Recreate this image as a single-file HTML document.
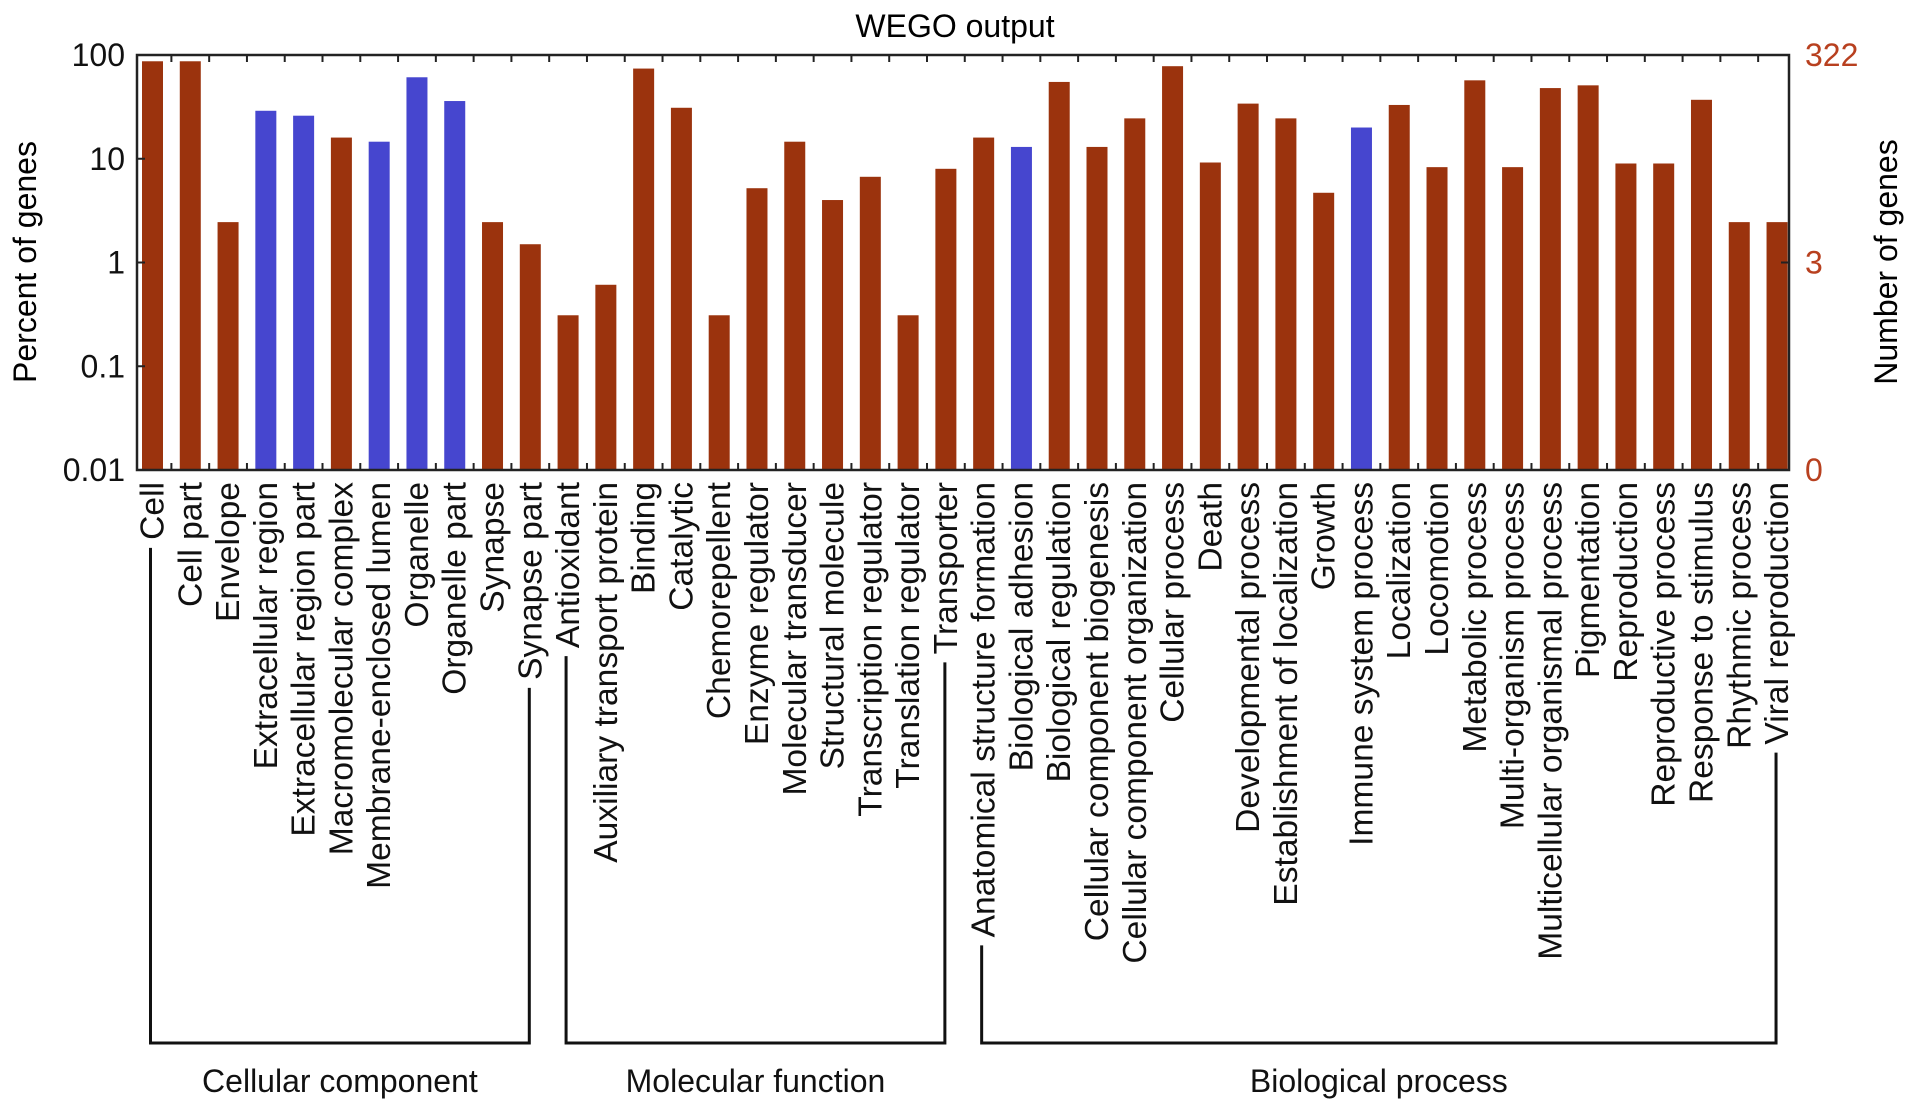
<!DOCTYPE html>
<html><head><meta charset="utf-8"><style>
html,body{margin:0;padding:0;background:#fff;}
svg{display:block;font-family:"Liberation Sans",Arial,sans-serif;}
</style></head><body>
<svg id="chart" width="1913" height="1111" viewBox="0 0 1913 1111" xmlns="http://www.w3.org/2000/svg">
<text x="955" y="37" font-size="32" text-anchor="middle">WEGO output</text>
<text transform="translate(36,262) rotate(-90)" font-size="32" text-anchor="middle">Percent of genes</text>
<text transform="translate(1897,262) rotate(-90)" font-size="32" text-anchor="middle">Number of genes</text>
<g id="plot"></g>
</svg>
<script>
const categories = ["Cell","Cell part","Envelope","Extracellular region","Extracellular region part","Macromolecular complex","Membrane-enclosed lumen","Organelle","Organelle part","Synapse","Synapse part","Antioxidant","Auxiliary transport protein","Binding","Catalytic","Chemorepellent","Enzyme regulator","Molecular transducer","Structural molecule","Transcription regulator","Translation regulator","Transporter","Anatomical structure formation","Biological adhesion","Biological regulation","Cellular component biogenesis","Cellular component organization","Cellular process","Death","Developmental process","Establishment of localization","Growth","Immune system process","Localization","Locomotion","Metabolic process","Multi-organism process","Multicellular organismal process","Pigmentation","Reproduction","Reproductive process","Response to stimulus","Rhythmic process","Viral reproduction"];
const percentValues = [87,87,2.45,29,26,16,14.6,61,36,2.45,1.5,0.31,0.61,74,31,0.31,5.2,14.6,4,6.7,0.31,8,16,13,55,13,24.5,78,9.2,34,24.5,4.7,20,33,8.3,57,8.3,48,51,9,9,37,2.45,2.45];
const highlighted = [0,0,0,1,1,0,1,1,1,0,0,0,0,0,0,0,0,0,0,0,0,0,0,1,0,0,0,0,0,0,0,0,1,0,0,0,0,0,0,0,0,0,0,0];
const leftTickValues = [100,10,1,0.1,0.01];
const leftTickLabels = ["100","10","1","0.1","0.01"];
const rightTickValues = [100,1,0.01];
const rightTickLabels = ["322","3","0"];
const groupNames = ["Cellular component","Molecular function","Biological process"];
const groupStart = [0,11,22];
const groupEnd = [10,21,43];

const NS="http://www.w3.org/2000/svg";
const L=137,R=1789,T=55,B=470;
const firstC=152.5, pitch=37.78, barW=21;
function xPos(i){return firstC+i*pitch;}
function yPos(v){return B-(B-T)*(Math.log10(v)+2)/4;}
const g=document.getElementById('plot');
function mk(tag,attrs){const e=document.createElementNS(NS,tag);for(const k in attrs)e.setAttribute(k,attrs[k]);g.appendChild(e);return e;}

percentValues.forEach((v,i)=>{
  const y=yPos(v);
  const r=mk('rect',{x:xPos(i)-barW/2,y:y,width:barW,height:B-y,fill:highlighted[i]?'#4646cf':'#9b330d'});
  
  
});
const fr=mk('rect',{x:L,y:T,width:R-L,height:B-T,fill:'none',stroke:'#222','stroke-width':2.5});


for(let i=1;i<categories.length;i++){
  const x=xPos(i)-pitch/2;
  mk('line',{x1:x,x2:x,y1:T,y2:T+7,stroke:'#222','stroke-width':2});
  mk('line',{x1:x,x2:x,y1:B,y2:B-7,stroke:'#222','stroke-width':2});
}
leftTickValues.forEach((v,i)=>{
  const y=yPos(v);
  mk('line',{x1:L,x2:L+8,y1:y,y2:y,stroke:'#222','stroke-width':2});
  const t=mk('text',{x:125,y:y+11,'font-size':32,'text-anchor':'end',fill:'#111'});
  t.textContent=leftTickLabels[i];
  
  
});
rightTickValues.forEach((v,i)=>{
  const y=yPos(v);
  mk('line',{x1:R,x2:R-8,y1:y,y2:y,stroke:'#222','stroke-width':2});
  const t=mk('text',{x:1805,y:y+11,'font-size':32,fill:'#b8401f'});
  t.textContent=rightTickLabels[i];
  
  
});
const labelEnds=[];
categories.forEach((c,i)=>{
  const x=xPos(i)+11;
  const t=mk('text',{transform:'translate('+x+',482) rotate(-90)','font-size':33.6,'text-anchor':'end',fill:'#111'});
  t.textContent=c;
  
  
  labelEnds.push(482+t.getComputedTextLength()+8);
});
const bY=1043;
groupNames.forEach((n,k)=>{
  const x1=xPos(groupStart[k])-2, x2=xPos(groupEnd[k])-1;
  const p=mk('path',{d:'M'+x1+','+labelEnds[groupStart[k]]+' V'+bY+' H'+x2+' V'+labelEnds[groupEnd[k]],fill:'none',stroke:'#111','stroke-width':3});
  
  
  const t=mk('text',{x:(x1+x2)/2,y:1092,'font-size':32,'text-anchor':'middle',fill:'#111'});
  t.textContent=n;
  
  
});
</script>
</body></html>
